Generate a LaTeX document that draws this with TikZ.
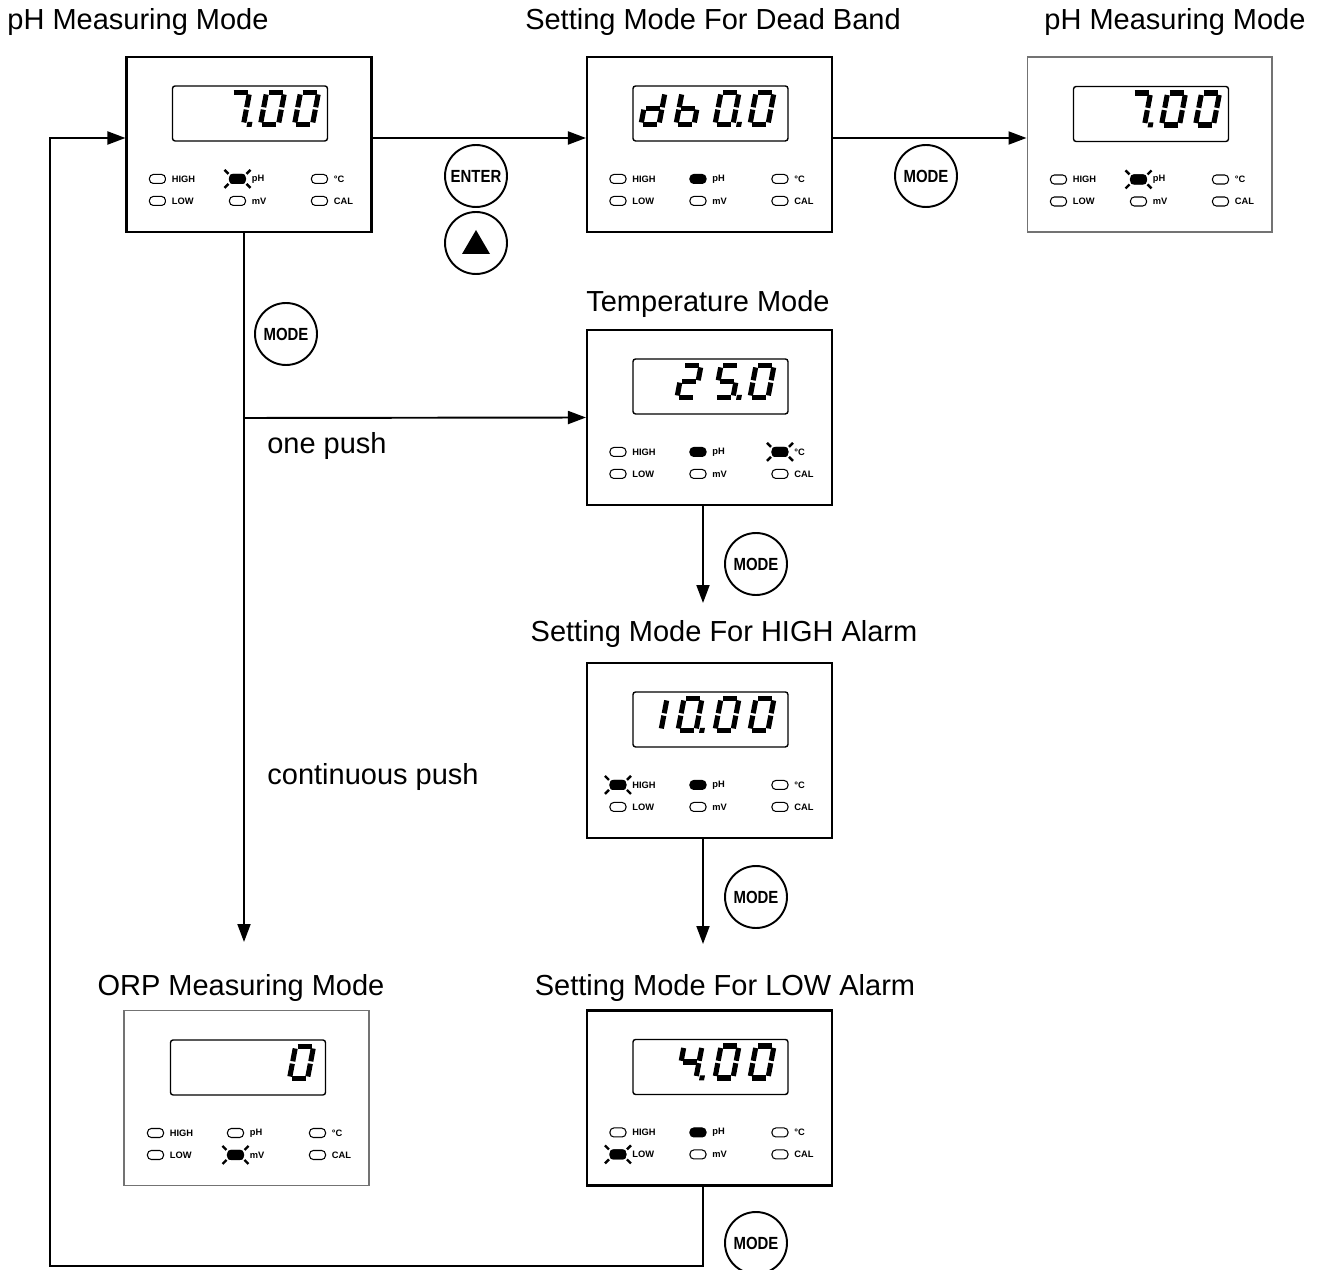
\documentclass[tikz,border=0pt]{standalone}
\usepackage{fontspec}
\setmainfont{Liberation Sans}
\newfontfamily\keyfont[FakeStretch=0.85]{Liberation Sans}
\usetikzlibrary{arrows.meta,positioning,calc}
\tikzset{
	panel/.style={draw, line width=1.2pt, minimum width=4.9cm, minimum height=3.5cm, inner sep=0pt},
	lightpanel/.style={panel, draw=black!55, line width=0.6pt},
	lcd/.style={draw, line width=0.8pt, rounded corners=1.5pt},
	seg/.style={line width=2.9pt},
	led/.style={draw, line width=0.6pt, rounded corners=2.2pt},
	ledtxt/.style={font=\fontsize{5.3}{6}\selectfont\bfseries, anchor=west, inner sep=0pt},
	title/.style={font=\fontsize{16.5}{20}\selectfont},
	keybtn/.style={draw, circle, line width=1.1pt, minimum size=1.24cm, inner sep=0pt, font=\keyfont\bfseries\fontsize{10}{12}\selectfont},
	arrow/.style={-{Triangle[length=3.6mm,width=2.6mm]}, line width=1.1pt}
}

% seven segment pieces (px units, baseline at 0, up is negative)
\newcommand{\sga}{\draw[seg] (2,-32) -- (16,-32);}
\newcommand{\sgb}{\draw[seg] (18,-30) -- (18,-17.2);}
\newcommand{\sgc}{\draw[seg] (18,-14.8) -- (18,-2);}
\newcommand{\sgd}{\draw[seg] (2,0) -- (16,0);}
\newcommand{\sge}{\draw[seg] (0,-2) -- (0,-14.8);}
\newcommand{\sgf}{\draw[seg] (0,-17.2) -- (0,-30);}
\newcommand{\sgg}{\draw[seg] (2,-16) -- (16,-16);}
\newcommand{\sgp}{\fill (21.5,2.5) rectangle (26.5,-2.5);}
\newcommand{\lcddigit}[2]{%
	\begin{scope}[shift={(#1,68.5)}, xslant=0.19]
		\foreach \s in {#2} {\csname sg\s\endcsname}
	\end{scope}}

% indicator lamps
\newcommand{\ledlit}[2]{\fill[rounded corners=2.2pt] (#1-8,#2-4.5) rectangle (#1+8,#2+4.5);}
\newcommand{\ledblink}[2]{%
	\fill[rounded corners=1.5pt] (#1-8,#2-5) rectangle (#1+8,#2+5);
	\draw[line width=1.4pt] (#1-9,#2-5) -- (#1-13,#2-9) (#1+9,#2-5) -- (#1+13,#2-9)
		(#1-9,#2+5) -- (#1-13,#2+9) (#1+9,#2+5) -- (#1+13,#2+9);}

% one meter front: name, centre, style, digits, lamps
\newcommand{\meterpanel}[5]{%
	\node[#3] (#1) at (#2) {};
	\begin{scope}[shift={(#1.north west)}]
		\draw[lcd] (47,30) rectangle (202,85);
		#4
		\foreach \lx/\ly/\lt in {32/123/HIGH, 32/145/LOW, 112/123/pH, 112/145/mV, 194/123/°C, 194/145/CAL}
		{\draw[led] (\lx-8,\ly-4.5) rectangle (\lx+8,\ly+4.5);
			\node[ledtxt] at (\lx+14,\ly) {\lt};}
		#5
	\end{scope}}

\begin{document}
\begin{tikzpicture}[x=0.02cm, y=-0.02cm]
	\useasboundingbox (0,0) rectangle (1322,1270);
	
	\meterpanel{p1}{249,144.5}{panel}
		{\lcddigit{100}{a,b,c,p}\lcddigit{135}{a,b,c,d,e,f}\lcddigit{169}{a,b,c,d,e,f}}
		{\ledblink{112}{123}}
	\meterpanel{p2}{709.5,144.5}{panel}
		{\lcddigit{55}{b,c,d,e,g}\lcddigit{90}{c,d,e,f,g}\lcddigit{129}{a,b,c,d,e,f,p}\lcddigit{164}{a,b,c,d,e,f}}
		{\ledlit{112}{123}}
	\meterpanel{p3}{1149.5,144.5}{lightpanel}
		{\lcddigit{100}{a,b,c,p}\lcddigit{135}{a,b,c,d,e,f}\lcddigit{169}{a,b,c,d,e,f}}
		{\ledblink{112}{123}}
	\meterpanel{p4}{709.5,417.5}{panel}
		{\lcddigit{91}{a,b,g,e,d}\lcddigit{129}{a,f,g,c,d,p}\lcddigit{164}{a,b,c,d,e,f}}
		{\ledlit{112}{123}\ledblink{194}{123}}
	\meterpanel{p5}{709.5,750.5}{panel}
		{\lcddigit{57}{b,c}\lcddigit{92}{a,b,c,d,e,f,p}\lcddigit{129}{a,b,c,d,e,f}\lcddigit{164}{a,b,c,d,e,f}}
		{\ledblink{32}{123}\ledlit{112}{123}}
	\meterpanel{p6}{246.5,1098}{lightpanel}
		{\lcddigit{166}{a,b,c,d,e,f}}
		{\ledblink{112}{145}}
	\meterpanel{p7}{709.5,1098}{panel}
		{\lcddigit{92}{b,c,f,g,p}\lcddigit{129}{a,b,c,d,e,f}\lcddigit{164}{a,b,c,d,e,f}}
		{\ledlit{112}{123}\ledblink{32}{145}}
	
	% titles
	\node[title] (t1) at (138,22) {pH Measuring Mode};
	\node[title] (t2) at (713,22) {Setting Mode For Dead Band};
	\node[title] (t3) at (1175,22) {pH Measuring Mode};
	\node[title] (t4) at (708,304) {Temperature Mode};
	\node[title] (t5) at (724,634) {Setting Mode For HIGH Alarm};
	\node[title] (t6) at (241,988) {ORP Measuring Mode};
	\node[title] (t7) at (725,988) {Setting Mode For LOW Alarm};
	\node[title] (onepush) at (327,446) {one push};
	\node[title] (contpush) at (373,777) {continuous push};
	
	% keys
	\node[keybtn] (enter) at (476,176) {ENTER};
	\node[keybtn] (up) at (476,243) {};
	\fill ([shift={(-14,11)}]up.center) -- ([shift={(14,11)}]up.center) -- ([shift={(0,-13)}]up.center) -- cycle;
	\node[keybtn] (m1) at (926,176) {MODE};
	\node[keybtn] (m2) at (286,334) {MODE};
	\node[keybtn] (m3) at (756,564) {MODE};
	\node[keybtn] (m4) at (756,897) {MODE};
	\node[keybtn] (m5) at (756,1243) {MODE};
	
	% connectors
	\coordinate (fork) at (244,418);
	\coordinate (orpin) at (244,942);
	\coordinate (hiin) at (703,603);
	\coordinate (loin) at (703,944);
	\coordinate (back) at (50,1266);
	\draw[arrow] ([yshift=0.13cm]p1.east) -- ([yshift=0.13cm]p2.west);
	\draw[arrow] ([yshift=0.13cm]p2.east) -- ([yshift=0.13cm]p3.west);
	\draw[arrow] ([xshift=-0.1cm]p1.south) -- (orpin);
	\draw[arrow] (fork) -- (p4.west);
	\draw[arrow] ([xshift=-0.13cm]p4.south) -- (hiin);
	\draw[arrow] ([xshift=-0.13cm]p5.south) -- (loin);
	\draw[arrow] ([xshift=-0.13cm]p7.south) |- (back) |- ([yshift=0.13cm]p1.west);
\end{tikzpicture}
\end{document}
